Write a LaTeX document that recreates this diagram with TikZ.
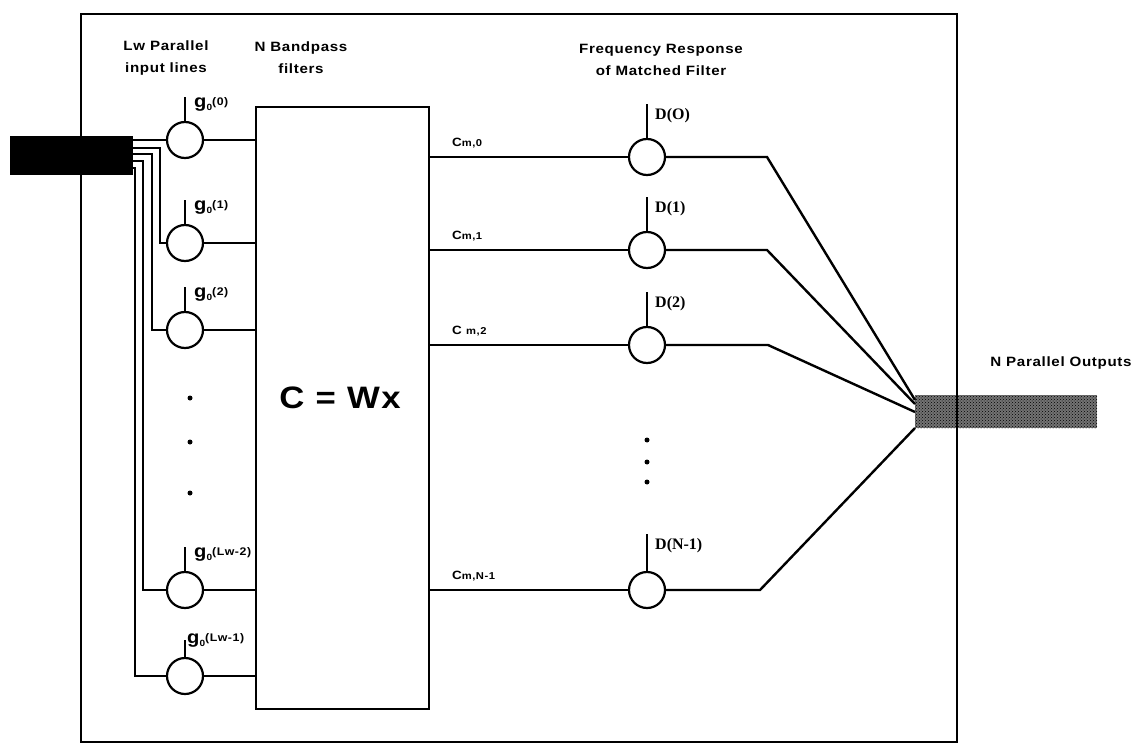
\documentclass[tikz,border=0pt]{standalone}
\usepackage{fontspec}
\usetikzlibrary{patterns}
\newfontfamily\lab{Liberation Sans}[FakeStretch=1.12,LetterSpace=5]
\newfontfamily\dlab{Liberation Serif}
\newcommand{\gl}[1]{{\lab\bfseries\fontsize{18}{18}\selectfont g}\raisebox{-3pt}{\lab\bfseries\fontsize{9}{9}\selectfont 0}\raisebox{2pt}{\lab\bfseries\fontsize{11}{11}\selectfont(#1)}}
\newcommand{\cl}[2]{{\lab\bfseries\fontsize{12}{12}\selectfont C#1}{\lab\bfseries\fontsize{10}{10}\selectfont #2}}
\begin{document}
\begin{tikzpicture}[x=1pt,y=-1pt,
  wire/.style={line width=2.4pt},
  circ/.style={circle,draw,line width=2.2pt,minimum size=36pt,inner sep=0pt},
  head/.style={font=\lab\bfseries\fontsize{13.5}{22}\selectfont,align=center,inner sep=0pt},
  glab/.style={anchor=west,inner sep=0pt},
  dlabel/.style={anchor=west,inner sep=0pt,font=\dlab\bfseries\fontsize{16}{16}\selectfont},
  clabel/.style={anchor=west,inner sep=0pt},
  dotn/.style={circle,fill=black,inner sep=0pt,minimum size=5pt}]
\useasboundingbox (0,0) rectangle (1139,743);

% headings
\node[head] (h1) at (166,58) {Lw Parallel\\input lines};
\node[head] (h2) at (301,58) {N Bandpass\\filters};
\node[head] (h3) at (661,60) {Frequency Response\\of Matched Filter};
\node[head] (h4) at (1061,363) {N Parallel Outputs};

% output bar
\node[fill=black!55,minimum width=182pt,minimum height=33pt,inner sep=0pt,anchor=north west,
      postaction={pattern=crosshatch dots,pattern color=black}] (outbar) at (915,395) {};

% frame
\node[draw,line width=2pt,minimum width=876pt,minimum height=728pt,inner sep=0pt,anchor=north west] (frame) at (80,13) {};

% input bar
\node[fill=black,minimum width=123pt,minimum height=39pt,inner sep=0pt,anchor=north west] (inbar) at (10,136) {};

% filter box
\node[draw,line width=2.4pt,minimum width=173pt,minimum height=602pt,inner sep=0pt,anchor=north west] (fbox) at (255,106) {};
\node[font=\lab\bfseries\fontsize{31}{31}\selectfont,inner sep=0pt] (cwx) at (340,398) {C = Wx};

% input circles
\node[circ] (i0) at (185,140) {};
\node[circ] (i1) at (185,243) {};
\node[circ] (i2) at (185,330) {};
\node[circ] (i3) at (185,590) {};
\node[circ] (i4) at (185,676) {};

\coordinate (w1) at (160,148);
\coordinate (w2) at (152,154);
\coordinate (w3) at (143,161);
\coordinate (w4) at (135,168);

\draw[wire] (inbar.north east |- i0) -- (i0.west);
\draw[wire] (inbar.east |- w1) -- (w1) |- (i1.west);
\draw[wire] (inbar.east |- w2) -- (w2) |- (i2.west);
\draw[wire] (inbar.east |- w3) -- (w3) |- (i3.west);
\draw[wire] (inbar.east |- w4) -- (w4) |- (i4.west);

\foreach \n in {0,...,4} \draw[wire] (i\n.east) -- (i\n.east -| fbox.west);

% stubs and labels on input circles
\coordinate (s0) at (185,97);
\coordinate (s1) at (185,200);
\coordinate (s2) at (185,287);
\coordinate (s3) at (185,547);
\coordinate (s4) at (185,640);
\foreach \n in {0,...,4} \draw[wire] (i\n.north) -- (s\n);
\node[glab] (gl0) at (194,104) {\gl{0}};
\node[glab] (gl1) at (194,207) {\gl{1}};
\node[glab] (gl2) at (194,294) {\gl{2}};
\node[glab] (gl3) at (194,554) {\gl{Lw-2}};
\node[glab] (gl4) at (187,640) {\gl{Lw-1}};

% left dots
\node[dotn] (ld1) at (190,398) {};
\node[dotn] (ld2) at (190,442) {};
\node[dotn] (ld3) at (190,493) {};

% output circles
\node[circ] (o0) at (647,157) {};
\node[circ] (o1) at (647,250) {};
\node[circ] (o2) at (647,345) {};
\node[circ] (o3) at (647,590) {};

\foreach \n in {0,...,3} \draw[wire] (o\n.west -| fbox.east) -- (o\n.west);

\node[clabel] (c0) at (452,143) {\cl{}{m,0}};
\node[clabel] (c1) at (452,236) {\cl{}{m,1}};
\node[clabel] (c2) at (452,331) {\cl{\ }{m,2}};
\node[clabel] (c3) at (452,576) {\cl{}{m,N-1}};

% D stubs and labels
\coordinate (t0) at (647,104);
\coordinate (t1) at (647,197);
\coordinate (t2) at (647,292);
\coordinate (t3) at (647,534);
\foreach \n in {0,...,3} \draw[wire] (o\n.north) -- (t\n);
\node[dlabel] (d0) at (655,116) {D(O)};
\node[dlabel] (d1) at (655,209) {D(1)};
\node[dlabel] (d2) at (655,304) {D(2)};
\node[dlabel] (d3) at (655,546) {D(N-1)};

% right dots
\node[dotn] (rd1) at (647,440) {};
\node[dotn] (rd2) at (647,462) {};
\node[dotn] (rd3) at (647,482) {};

% output wires
\coordinate (k0) at (767,157);
\coordinate (k1) at (767,250);
\coordinate (k2) at (768,345);
\coordinate (k3) at (760,590);
\coordinate (e0) at (915,400);
\coordinate (e1) at (915,404);
\coordinate (e2) at (915,412);
\coordinate (e3) at (915,428);
\foreach \n in {0,...,3} \draw[wire,line join=miter] (o\n.east) -- (k\n) -- (e\n);
\end{tikzpicture}
\end{document}
